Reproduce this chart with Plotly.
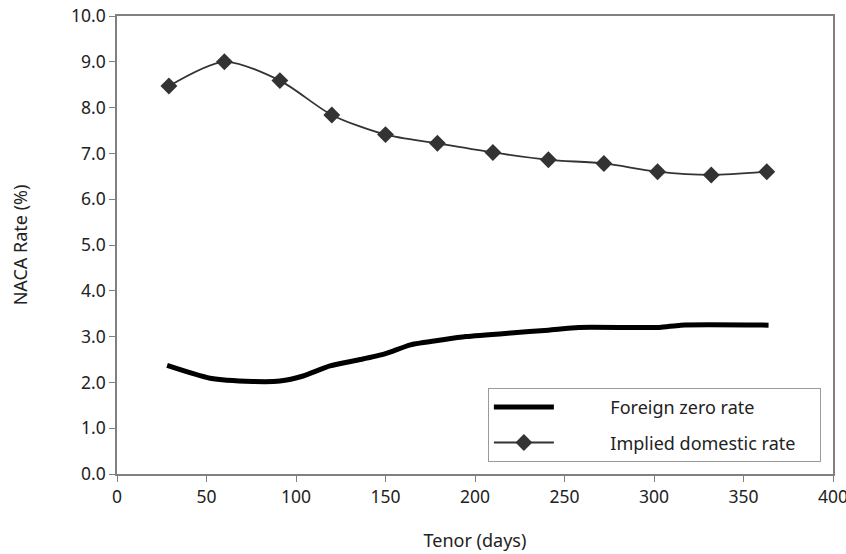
import plotly.graph_objects as go

# Implied domestic rate (markers)
dom_tenor = [29, 60, 91, 120, 150, 179, 210, 241, 272, 302, 332, 363]
dom_rate = [8.47, 9.00, 8.59, 7.84, 7.41, 7.22, 7.02, 6.86, 6.78, 6.60, 6.53, 6.60]

# Foreign zero rate (thick line)
for_tenor = [28, 52, 76, 91, 104, 119, 136, 150, 164, 182, 195, 220, 241, 258, 303, 315, 364]
for_rate = [2.37, 2.09, 2.02, 2.03, 2.14, 2.36, 2.50, 2.63, 2.82, 2.93, 3.00, 3.08, 3.14, 3.20, 3.20, 3.25, 3.25]

x_ticks = [0, 50, 100, 150, 200, 250, 300, 350, 400]
y_ticks = [0, 1, 2, 3, 4, 5, 6, 7, 8, 9, 10]

FONT = "Noto Sans"
TXT = "#222222"
AXC = "#808080"
PAD = "\u00a0" * 11

fig = go.Figure()
fig.add_trace(go.Scatter(
    x=for_tenor, y=for_rate, mode="lines", name=PAD + "Foreign zero rate",
    line=dict(color="#000000", width=5, shape="spline", smoothing=0.6),
    legendgroup="a",
))
fig.add_trace(go.Scatter(
    x=dom_tenor, y=dom_rate, mode="lines+markers",
    name=PAD + "Implied domestic rate" + "\u00a0" * 4,
    line=dict(color="#333333", width=1.8, shape="spline", smoothing=0.8),
    marker=dict(symbol="diamond", size=13, color="#333333"),
    legendgroup="b",
))

fig.update_layout(
    width=846, height=554,
    margin=dict(l=117, r=13, t=16, b=80),
    paper_bgcolor="white", plot_bgcolor="white",
    font=dict(family=FONT, size=18, color=TXT),
    showlegend=True,
    legend=dict(
        x=0.518, y=0.188, xanchor="left", yanchor="top",
        bgcolor="white", bordercolor="#9a9a9a", borderwidth=1,
        font=dict(family=FONT, size=18, color=TXT),
        itemwidth=60, tracegroupgap=9,
    ),
)
fig.update_xaxes(
    range=[0, 400], tickvals=x_ticks, ticktext=[str(v) for v in x_ticks],
    showgrid=False, zeroline=False, automargin=False,
    ticklabeloverflow="allow",
    showline=True, mirror=True, linecolor=AXC, linewidth=1.5,
    ticks="outside", ticklen=6, tickcolor=AXC, tickwidth=1,
    tickfont=dict(size=17.5),
    title=dict(text="Tenor (days)", font=dict(size=18), standoff=28),
)
fig.update_yaxes(
    range=[0, 10], tickvals=y_ticks, tickformat=".1f",
    showgrid=False, zeroline=False, automargin=False,
    showline=True, mirror=True, linecolor=AXC, linewidth=1.5,
    ticks="outside", ticklen=6, tickcolor=AXC, tickwidth=1,
    tickfont=dict(size=17.5),
    title=dict(text="NACA Rate (%)", font=dict(size=18), standoff=39),
)

fig.write_html("out.html")
